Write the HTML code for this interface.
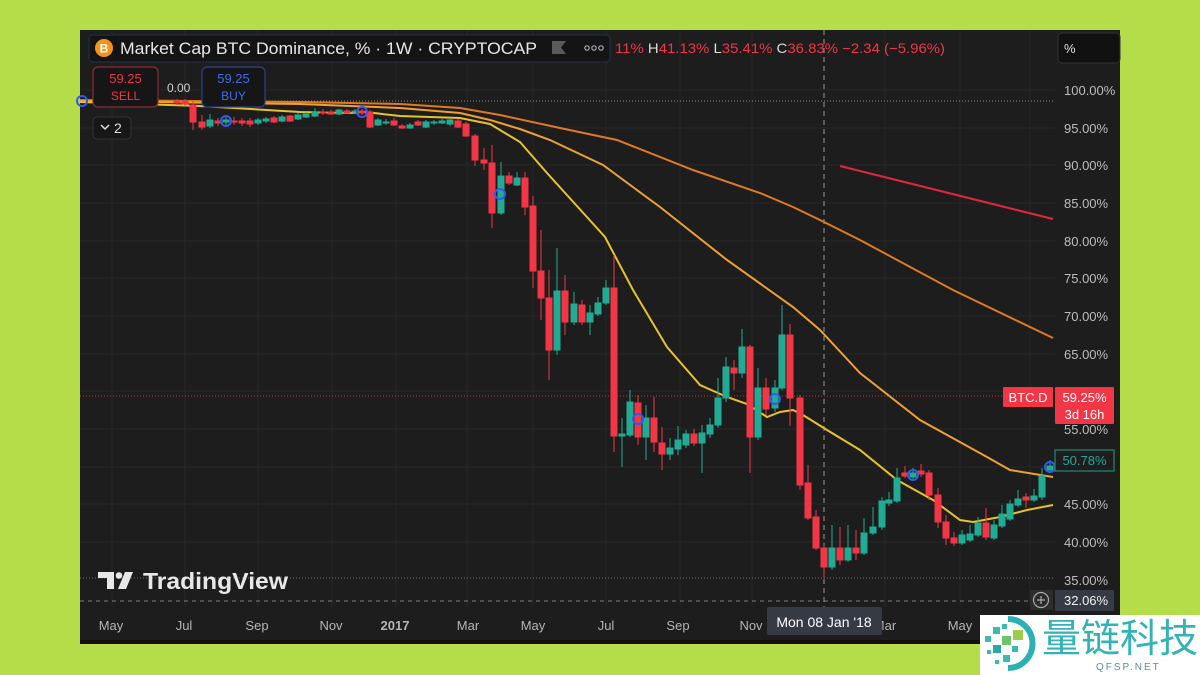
<!DOCTYPE html>
<html><head><meta charset="utf-8"><style>
html,body{margin:0;padding:0;background:#b5dd4a;}
svg{display:block;font-family:"Liberation Sans","Noto Sans CJK SC",sans-serif;}
</style></head><body>
<svg width="1200" height="675" viewBox="0 0 1200 675" xmlns="http://www.w3.org/2000/svg">
<rect x="0" y="0" width="1200" height="675" fill="#b5dd4a"/>
<rect x="80" y="30" width="1040" height="614" fill="#1d1d1d"/>
<rect x="80" y="640" width="1040" height="4" fill="#101010"/>

<!-- grid -->
<g stroke="#282828" stroke-width="1">
<line x1="80" y1="90" x2="1055" y2="90"/><line x1="80" y1="128" x2="1055" y2="128"/><line x1="80" y1="165" x2="1055" y2="165"/><line x1="80" y1="203" x2="1055" y2="203"/><line x1="80" y1="241" x2="1055" y2="241"/><line x1="80" y1="278" x2="1055" y2="278"/><line x1="80" y1="316" x2="1055" y2="316"/><line x1="80" y1="354" x2="1055" y2="354"/><line x1="80" y1="391" x2="1055" y2="391"/><line x1="80" y1="429" x2="1055" y2="429"/><line x1="80" y1="467" x2="1055" y2="467"/><line x1="80" y1="504" x2="1055" y2="504"/><line x1="80" y1="542" x2="1055" y2="542"/>
<line x1="112" y1="30" x2="112" y2="607"/><line x1="185" y1="30" x2="185" y2="607"/><line x1="258" y1="30" x2="258" y2="607"/><line x1="332" y1="30" x2="332" y2="607"/><line x1="396" y1="30" x2="396" y2="607"/><line x1="467" y1="30" x2="467" y2="607"/><line x1="533" y1="30" x2="533" y2="607"/><line x1="606" y1="30" x2="606" y2="607"/><line x1="680" y1="30" x2="680" y2="607"/><line x1="752" y1="30" x2="752" y2="607"/><line x1="885" y1="30" x2="885" y2="607"/><line x1="960" y1="30" x2="960" y2="607"/><line x1="1030" y1="30" x2="1030" y2="607"/>
</g>

<!-- reference lines -->
<line x1="80" y1="101" x2="1055" y2="101" stroke="#8a8a8a" stroke-width="1" stroke-dasharray="1 2"/>
<line x1="80" y1="396" x2="1055" y2="396" stroke="#f23645" stroke-width="1" stroke-dasharray="1 2" opacity="0.8"/>
<line x1="80" y1="578" x2="1055" y2="578" stroke="#707070" stroke-width="1" stroke-dasharray="1 2"/>
<line x1="80" y1="601" x2="1030" y2="601" stroke="#808080" stroke-width="1" stroke-dasharray="4 4"/>
<line x1="824" y1="30" x2="824" y2="607" stroke="#9a9a9a" stroke-width="1" stroke-dasharray="5 4"/>

<!-- moving averages -->
<polyline fill="none" stroke="#e07a22" stroke-width="2" points="80,100 300,102 400,104 460,108 500,115 560,128 617,140 693,170 760,193 793,207 820,220 860,240 953,290 1053,338"/>
<polyline fill="none" stroke="#eea032" stroke-width="2" points="80,101 300,104 400,108 460,113 490,120 520,129 550,140 603,165 660,207 727,260 793,307 820,330 860,373 920,420 987,457 1010,470 1053,477"/>
<polyline fill="none" stroke="#e8c22a" stroke-width="2" points="80,102 200,106 300,112 350,113 365,112 400,116 460,118 490,124 520,142 547,173 605,237 633,290 667,347 700,385 727,397 747,404 767,417 780,412 793,410 803,415 827,430 860,450 897,480 933,500 960,520 973,522 1000,517 1027,510 1053,505"/>
<line x1="840" y1="166" x2="1053" y2="219" stroke="#e0283c" stroke-width="2"/>

<!-- red candles -->
<g fill="#f23645" stroke="#f23645" stroke-width="1">
<line x1="177" y1="99" x2="177" y2="105"/><rect x="174" y="101" width="6" height="2"/>
<line x1="185" y1="99" x2="185" y2="106"/><rect x="182" y="101" width="6" height="3"/>
<line x1="193" y1="101" x2="193" y2="130"/><rect x="190" y="105" width="6" height="17"/>
<line x1="202" y1="115" x2="202" y2="130"/><rect x="199" y="122" width="6" height="5"/>
<line x1="218" y1="118" x2="218" y2="126"/><rect x="215" y="121" width="6" height="2"/>
<line x1="234" y1="117" x2="234" y2="125"/><rect x="231" y="121" width="6" height="1"/>
<line x1="242" y1="118" x2="242" y2="126"/><rect x="239" y="121" width="6" height="2"/>
<line x1="250" y1="118" x2="250" y2="127"/><rect x="247" y="121" width="6" height="3"/>
<line x1="274" y1="116" x2="274" y2="123"/><rect x="271" y="118" width="6" height="4"/>
<line x1="290" y1="115" x2="290" y2="122"/><rect x="287" y="116" width="6" height="5"/>
<line x1="323" y1="109" x2="323" y2="115"/><rect x="320" y="112" width="6" height="1"/>
<line x1="331" y1="110" x2="331" y2="115"/><rect x="328" y="112" width="6" height="2"/>
<line x1="347" y1="109" x2="347" y2="114"/><rect x="344" y="111" width="6" height="2"/>
<line x1="362" y1="109" x2="362" y2="115"/><rect x="359" y="111" width="6" height="2"/>
<line x1="370" y1="110" x2="370" y2="128"/><rect x="367" y="112" width="6" height="15"/>
<line x1="394" y1="118" x2="394" y2="126"/><rect x="391" y="121" width="6" height="4"/>
<line x1="402" y1="124" x2="402" y2="129"/><rect x="399" y="126" width="6" height="2"/>
<line x1="418" y1="120" x2="418" y2="126"/><rect x="415" y="122" width="6" height="3"/>
<line x1="458" y1="119" x2="458" y2="128"/><rect x="455" y="121" width="6" height="6"/>
<line x1="466" y1="122" x2="466" y2="137"/><rect x="463" y="124" width="6" height="12"/>
<line x1="475" y1="134" x2="475" y2="166"/><rect x="472" y="136" width="6" height="24"/>
<line x1="484" y1="148" x2="484" y2="170"/><rect x="481" y="160" width="6" height="3"/>
<line x1="492" y1="145" x2="492" y2="228"/><rect x="489" y="163" width="6" height="50"/>
<line x1="509" y1="172" x2="509" y2="185"/><rect x="506" y="176" width="6" height="7"/>
<line x1="525" y1="172" x2="525" y2="215"/><rect x="522" y="178" width="6" height="29"/>
<line x1="533" y1="196" x2="533" y2="288"/><rect x="530" y="206" width="6" height="65"/>
<line x1="541" y1="230" x2="541" y2="320"/><rect x="538" y="271" width="6" height="27"/>
<line x1="549" y1="270" x2="549" y2="380"/><rect x="546" y="298" width="6" height="52"/>
<line x1="565" y1="275" x2="565" y2="335"/><rect x="562" y="291" width="6" height="31"/>
<line x1="582" y1="300" x2="582" y2="325"/><rect x="579" y="305" width="6" height="17"/>
<line x1="614" y1="255" x2="614" y2="452"/><rect x="611" y="288" width="6" height="148"/>
<line x1="638" y1="395" x2="638" y2="445"/><rect x="635" y="403" width="6" height="34"/>
<line x1="654" y1="397" x2="654" y2="452"/><rect x="651" y="418" width="6" height="24"/>
<line x1="662" y1="427" x2="662" y2="470"/><rect x="659" y="443" width="6" height="11"/>
<line x1="694" y1="429" x2="694" y2="446"/><rect x="691" y="434" width="6" height="9"/>
<line x1="734" y1="360" x2="734" y2="390"/><rect x="731" y="368" width="6" height="5"/>
<line x1="750" y1="345" x2="750" y2="473"/><rect x="747" y="347" width="6" height="90"/>
<line x1="766" y1="378" x2="766" y2="415"/><rect x="763" y="388" width="6" height="21"/>
<line x1="790" y1="324" x2="790" y2="426"/><rect x="787" y="335" width="6" height="63"/>
<line x1="800" y1="395" x2="800" y2="490"/><rect x="797" y="398" width="6" height="87"/>
<line x1="808" y1="465" x2="808" y2="520"/><rect x="805" y="483" width="6" height="35"/>
<line x1="816" y1="510" x2="816" y2="550"/><rect x="813" y="517" width="6" height="31"/>
<line x1="824" y1="545" x2="824" y2="578"/><rect x="821" y="548" width="6" height="19"/>
<line x1="840" y1="527" x2="840" y2="565"/><rect x="837" y="548" width="6" height="12"/>
<line x1="856" y1="530" x2="856" y2="560"/><rect x="853" y="548" width="6" height="5"/>
<line x1="905" y1="466" x2="905" y2="478"/><rect x="902" y="473" width="6" height="3"/>
<line x1="921" y1="464" x2="921" y2="477"/><rect x="918" y="471" width="6" height="3"/>
<line x1="929" y1="470" x2="929" y2="500"/><rect x="926" y="473" width="6" height="22"/>
<line x1="938" y1="488" x2="938" y2="528"/><rect x="935" y="495" width="6" height="27"/>
<line x1="946" y1="515" x2="946" y2="545"/><rect x="943" y="522" width="6" height="16"/>
<line x1="954" y1="532" x2="954" y2="546"/><rect x="951" y="538" width="6" height="5"/>
<line x1="986" y1="508" x2="986" y2="540"/><rect x="983" y="523" width="6" height="14"/>
<line x1="1026" y1="493" x2="1026" y2="508"/><rect x="1023" y="497" width="6" height="3"/>
</g>

<!-- green candles -->
<g fill="#22ab94" stroke="#22ab94" stroke-width="1">
<line x1="210" y1="114" x2="210" y2="128"/><rect x="207" y="120" width="6" height="6"/>
<line x1="226" y1="117" x2="226" y2="125"/><rect x="223" y="120" width="6" height="2"/>
<line x1="258" y1="118" x2="258" y2="125"/><rect x="255" y="120" width="6" height="3"/>
<line x1="266" y1="117" x2="266" y2="123"/><rect x="263" y="119" width="6" height="2"/>
<line x1="282" y1="115" x2="282" y2="122"/><rect x="279" y="117" width="6" height="4"/>
<line x1="298" y1="113" x2="298" y2="120"/><rect x="295" y="115" width="6" height="4"/>
<line x1="306" y1="112" x2="306" y2="118"/><rect x="303" y="114" width="6" height="3"/>
<line x1="315" y1="108" x2="315" y2="117"/><rect x="312" y="112" width="6" height="4"/>
<line x1="339" y1="109" x2="339" y2="115"/><rect x="336" y="110" width="6" height="4"/>
<line x1="355" y1="109" x2="355" y2="114"/><rect x="352" y="111" width="6" height="1"/>
<line x1="378" y1="118" x2="378" y2="126"/><rect x="375" y="120" width="6" height="5"/>
<line x1="386" y1="119" x2="386" y2="125"/><rect x="383" y="122" width="6" height="1"/>
<line x1="410" y1="123" x2="410" y2="129"/><rect x="407" y="125" width="6" height="3"/>
<line x1="426" y1="120" x2="426" y2="128"/><rect x="423" y="122" width="6" height="5"/>
<line x1="434" y1="120" x2="434" y2="125"/><rect x="431" y="122" width="6" height="1"/>
<line x1="442" y1="119" x2="442" y2="124"/><rect x="439" y="121" width="6" height="2"/>
<line x1="450" y1="119" x2="450" y2="126"/><rect x="447" y="120" width="6" height="4"/>
<line x1="501" y1="162" x2="501" y2="215"/><rect x="498" y="176" width="6" height="37"/>
<line x1="517" y1="172" x2="517" y2="186"/><rect x="514" y="178" width="6" height="7"/>
<line x1="557" y1="248" x2="557" y2="355"/><rect x="554" y="291" width="6" height="59"/>
<line x1="574" y1="292" x2="574" y2="325"/><rect x="571" y="304" width="6" height="18"/>
<line x1="590" y1="305" x2="590" y2="335"/><rect x="587" y="313" width="6" height="9"/>
<line x1="598" y1="297" x2="598" y2="316"/><rect x="595" y="303" width="6" height="11"/>
<line x1="606" y1="280" x2="606" y2="305"/><rect x="603" y="288" width="6" height="15"/>
<line x1="622" y1="418" x2="622" y2="467"/><rect x="619" y="434" width="6" height="2"/>
<line x1="630" y1="390" x2="630" y2="437"/><rect x="627" y="402" width="6" height="33"/>
<line x1="646" y1="405" x2="646" y2="460"/><rect x="643" y="418" width="6" height="19"/>
<line x1="670" y1="438" x2="670" y2="460"/><rect x="667" y="448" width="6" height="6"/>
<line x1="678" y1="426" x2="678" y2="455"/><rect x="675" y="440" width="6" height="9"/>
<line x1="686" y1="430" x2="686" y2="448"/><rect x="683" y="434" width="6" height="11"/>
<line x1="702" y1="425" x2="702" y2="473"/><rect x="699" y="433" width="6" height="10"/>
<line x1="710" y1="418" x2="710" y2="438"/><rect x="707" y="425" width="6" height="9"/>
<line x1="718" y1="378" x2="718" y2="428"/><rect x="715" y="398" width="6" height="27"/>
<line x1="726" y1="357" x2="726" y2="402"/><rect x="723" y="367" width="6" height="31"/>
<line x1="742" y1="329" x2="742" y2="378"/><rect x="739" y="347" width="6" height="26"/>
<line x1="758" y1="368" x2="758" y2="440"/><rect x="755" y="388" width="6" height="49"/>
<line x1="775" y1="380" x2="775" y2="412"/><rect x="772" y="388" width="6" height="20"/>
<line x1="782" y1="305" x2="782" y2="390"/><rect x="779" y="335" width="6" height="53"/>
<line x1="832" y1="525" x2="832" y2="570"/><rect x="829" y="548" width="6" height="19"/>
<line x1="848" y1="525" x2="848" y2="562"/><rect x="845" y="548" width="6" height="12"/>
<line x1="864" y1="518" x2="864" y2="555"/><rect x="861" y="533" width="6" height="20"/>
<line x1="873" y1="507" x2="873" y2="535"/><rect x="870" y="527" width="6" height="6"/>
<line x1="882" y1="497" x2="882" y2="530"/><rect x="879" y="501" width="6" height="26"/>
<line x1="889" y1="492" x2="889" y2="506"/><rect x="886" y="500" width="6" height="3"/>
<line x1="897" y1="468" x2="897" y2="503"/><rect x="894" y="478" width="6" height="23"/>
<line x1="913" y1="468" x2="913" y2="480"/><rect x="910" y="473" width="6" height="4"/>
<line x1="962" y1="530" x2="962" y2="545"/><rect x="959" y="535" width="6" height="8"/>
<line x1="970" y1="525" x2="970" y2="542"/><rect x="967" y="534" width="6" height="6"/>
<line x1="978" y1="517" x2="978" y2="537"/><rect x="975" y="523" width="6" height="12"/>
<line x1="994" y1="520" x2="994" y2="540"/><rect x="991" y="525" width="6" height="13"/>
<line x1="1002" y1="505" x2="1002" y2="528"/><rect x="999" y="514" width="6" height="12"/>
<line x1="1010" y1="500" x2="1010" y2="521"/><rect x="1007" y="504" width="6" height="15"/>
<line x1="1018" y1="490" x2="1018" y2="507"/><rect x="1015" y="499" width="6" height="6"/>
<line x1="1034" y1="489" x2="1034" y2="502"/><rect x="1031" y="496" width="6" height="4"/>
<line x1="1042" y1="468" x2="1042" y2="500"/><rect x="1039" y="476" width="6" height="21"/>
<line x1="1050" y1="460" x2="1050" y2="472"/><rect x="1047" y="466" width="6" height="4"/>
</g>

<!-- signal circles -->
<g fill="none" stroke="#2f5bea" stroke-width="2">
<circle cx="82" cy="101" r="5"/><circle cx="226" cy="121" r="5"/><circle cx="362" cy="112" r="5"/><circle cx="500" cy="194" r="5"/><circle cx="638" cy="419" r="5"/><circle cx="775" cy="399" r="5"/><circle cx="913" cy="475" r="5"/><circle cx="1050" cy="467" r="5"/>
</g>

<!-- header -->
<rect x="89" y="35" width="521" height="27" rx="4" fill="#141414" stroke="#25304a" stroke-width="1"/>
<circle cx="104" cy="48" r="9" fill="#f7931a"/>
<text x="104" y="52.5" font-size="12" font-weight="bold" fill="#fff" text-anchor="middle">B</text>
<text x="120" y="54" font-size="17" fill="#e6e6e6" textLength="417" lengthAdjust="spacingAndGlyphs">Market Cap BTC Dominance, % · 1W · CRYPTOCAP</text>
<path d="M552,41 h14 l-5,6.5 l5,6.5 h-14 z" fill="#5a5a5a"/>
<g fill="none" stroke="#aaa" stroke-width="1.2"><circle cx="587" cy="48" r="2.2"/><circle cx="594" cy="48" r="2.2"/><circle cx="601" cy="48" r="2.2"/></g>
<text x="615" y="53" font-size="14" fill="#f23645" textLength="330" lengthAdjust="spacingAndGlyphs">11% <tspan fill="#dcdcdc">H</tspan>41.13% <tspan fill="#dcdcdc">L</tspan>35.41% <tspan fill="#dcdcdc">C</tspan>36.83% −2.34 (−5.96%)</text>

<rect x="1058" y="33" width="62" height="30" rx="4" fill="#111" stroke="#333" stroke-width="1"/>
<text x="1064" y="53" font-size="13" fill="#e0e0e0">%</text>

<!-- buttons -->
<rect x="93" y="67" width="65" height="40" rx="5" fill="#161616" stroke="#8b2d36" stroke-width="1.2"/>
<text x="125.5" y="83" font-size="13" fill="#f23645" text-anchor="middle">59.25</text>
<text x="125.5" y="100" font-size="12" fill="#f23645" text-anchor="middle">SELL</text>
<text x="167" y="92" font-size="12" fill="#d0d0d0">0.00</text>
<rect x="202" y="67" width="63" height="40" rx="5" fill="#161616" stroke="#2b4488" stroke-width="1.2"/>
<text x="233.5" y="83" font-size="13" fill="#3d6cf0" text-anchor="middle">59.25</text>
<text x="233.5" y="100" font-size="12" fill="#3d6cf0" text-anchor="middle">BUY</text>
<rect x="93" y="117" width="38" height="22" rx="4" fill="#171717" stroke="#333" stroke-width="1"/>
<path d="M101,125 l4,4 l4,-4" fill="none" stroke="#ddd" stroke-width="1.5"/>
<text x="114" y="133" font-size="14" fill="#ddd">2</text>

<!-- price axis -->
<g font-size="13" fill="#bdbdbd">
<text x="1064" y="95">100.00%</text>
<text x="1064" y="133">95.00%</text>
<text x="1064" y="170">90.00%</text>
<text x="1064" y="208">85.00%</text>
<text x="1064" y="246">80.00%</text>
<text x="1064" y="283">75.00%</text>
<text x="1064" y="321">70.00%</text>
<text x="1064" y="359">65.00%</text>
<text x="1064" y="396">60.00%</text>
<text x="1064" y="434">55.00%</text>
<text x="1064" y="509">45.00%</text>
<text x="1064" y="547">40.00%</text>
<text x="1064" y="585">35.00%</text>
</g>
<rect x="1003" y="387" width="50" height="20" rx="1" fill="#f23645"/>
<text x="1028" y="402" font-size="13" fill="#fff" text-anchor="middle">BTC.D</text>
<rect x="1055" y="387" width="59" height="37" rx="1" fill="#f23645"/>
<text x="1084.5" y="402" font-size="13" fill="#fff" text-anchor="middle">59.25%</text>
<text x="1084.5" y="419" font-size="13" fill="#fff" text-anchor="middle">3d 16h</text>
<rect x="1055" y="450" width="59" height="21" fill="#1d1d1d" stroke="#1e8a78" stroke-width="1.2"/>
<text x="1084.5" y="465" font-size="13" fill="#26a69a" text-anchor="middle">50.78%</text>
<rect x="1030" y="590" width="23" height="20" fill="#2c2c2c"/>
<circle cx="1041" cy="600" r="7.5" fill="none" stroke="#aaa" stroke-width="1.2"/>
<path d="M1037,600 h8 M1041,596 v8" stroke="#aaa" stroke-width="1.2"/>
<rect x="1055" y="590" width="59" height="21" fill="#363a45"/>
<text x="1064" y="605" font-size="13" fill="#f0f0f0">32.06%</text>

<!-- time axis -->
<g font-size="13" fill="#b5b5b5" text-anchor="middle">
<text x="111" y="630">May</text>
<text x="184" y="630">Jul</text>
<text x="257" y="630">Sep</text>
<text x="331" y="630">Nov</text>
<text x="395" y="630" font-weight="bold">2017</text>
<text x="468" y="630">Mar</text>
<text x="533" y="630">May</text>
<text x="606" y="630">Jul</text>
<text x="678" y="630">Sep</text>
<text x="751" y="630">Nov</text>
<text x="885" y="630">Mar</text>
<text x="960" y="630">May</text>
</g>
<rect x="767" y="607" width="115" height="28" rx="2" fill="#363a45"/>
<text x="824" y="627" font-size="14" fill="#fff" text-anchor="middle">Mon 08 Jan '18</text>

<!-- TradingView logo -->
<g fill="#e8e8e8">
<path d="M98,572 h16 v17 h-7 v-11 h-9 z"/>
<circle cx="119" cy="575.5" r="3.3"/>
<path d="M125,572 h8 l-7,17 h-8 z"/>
</g>
<text x="143" y="589" font-size="23" font-weight="bold" fill="#e8e8e8" textLength="145" lengthAdjust="spacingAndGlyphs">TradingView</text>

<!-- watermark -->
<rect x="980" y="615" width="220" height="60" fill="#ffffff"/>
<path d="M1008,619 A24,24 0 0 1 1008,668" fill="none" stroke="#2bb0b3" stroke-width="6"/>
<g>
<rect x="985" y="636" width="6" height="6" fill="#3cb8b5"/>
<rect x="993" y="627" width="7" height="7" fill="#3cb8b5"/>
<rect x="993" y="645" width="8" height="8" fill="#2aa7a8"/>
<rect x="1002" y="636" width="9" height="9" fill="#6cc36a"/>
<rect x="1013" y="630" width="10" height="10" fill="#9acd4a"/>
<rect x="1003" y="655" width="7" height="7" fill="#3cb8b5"/>
<rect x="1012" y="646" width="6" height="6" fill="#3cb8b5"/>
<rect x="987" y="650" width="4" height="4" fill="#3cb8b5"/>
<rect x="1002" y="624" width="5" height="5" fill="#3cb8b5"/>
<rect x="995" y="660" width="4" height="4" fill="#3cb8b5"/>
</g>
<text x="1042" y="652" font-size="39" fill="#33b3b6" font-family="'Noto Sans CJK SC','WenQuanYi Zen Hei',sans-serif" textLength="156" lengthAdjust="spacingAndGlyphs">量链科技</text>
<text x="1096" y="670" font-size="10" fill="#5a8f93" letter-spacing="2">QFSP.NET</text>
</svg>
</body></html>
